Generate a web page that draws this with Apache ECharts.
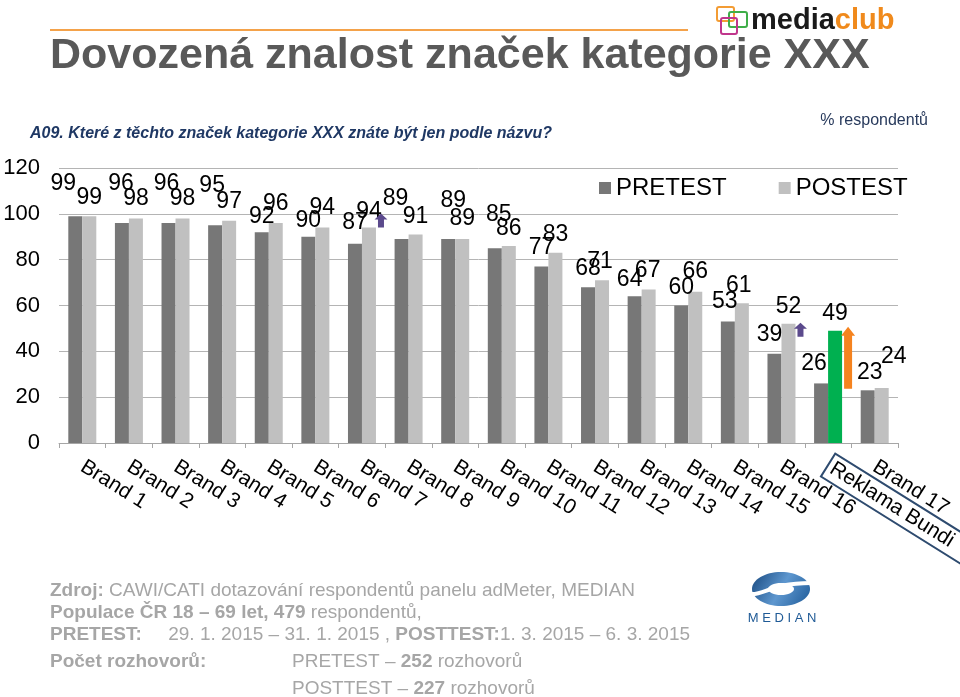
<!DOCTYPE html>
<html>
<head>
<meta charset="utf-8">
<script src="https://cdn.jsdelivr.net/npm/echarts@6/dist/echarts.min.js"></script>
<style>
  html, body { margin: 0; padding: 0; background: #ffffff; }
  #chart { width: 960px; height: 697px; }
</style>
</head>
<body>
<div id="chart"></div>
<script>
// ---------------- data ----------------
const categories = ['Brand 1', 'Brand 2', 'Brand 3', 'Brand 4', 'Brand 5', 'Brand 6', 'Brand 7', 'Brand 8', 'Brand 9',
  'Brand 10', 'Brand 11', 'Brand 12', 'Brand 13', 'Brand 14', 'Brand 15', 'Brand 16', 'Reklama Bundi', 'Brand 17'];
const pretest = [99, 96, 96, 95, 92, 90, 87, 89, 89, 85, 77, 68, 64, 60, 53, 39, 26, 23];
const posttest = [99, 98, 98, 97, 96, 94, 94, 91, 89, 86, 83, 71, 67, 66, 61, 52, 49, 24];
const seriesNames = ['PRETEST', 'POSTEST'];
const yAxisMin = 0, yAxisMax = 120, yAxisStep = 20;
const highlightCategory = 'Reklama Bundi';
const increaseMarks = [
  { category: 'Brand 7', value: 94, kind: 'small' },
  { category: 'Brand 16', value: 52, kind: 'small' },
  { category: 'Reklama Bundi', value: 49, kind: 'tall' }
];

// ---------------- styles / layout ----------------
const FONT = "'Liberation Sans', Arial, 'DejaVu Sans', sans-serif";
const colPre = '#777777', colPost = '#c0c0c0', colHighlight = '#00b050';
const purple = '#5b4a8c', orange = '#f5831f';
const FOOT = 19, footCol = '#a6a6a6';
// label nudges [dx, dy] reproducing the original label placement
const preNudge = [[-12, -14], [-1, -21], [-2, -21], [-3, -21], [0, 3], [0, 2], [0, -2], [-6, -22], [5, -20],
  [4, -15], [0, 0], [0, 0], [-5, 2], [0, 1], [-3, -1], [-5, 0], [-7, -1], [2, 1]];
const postNudge = [[0, 0], [0, -1], [0, -1], [0, -1], [0, -1], [0, -1], [0, 3], [0, 1], [0, -2],
  [0, 1], [0, 0], [-2, 0], [-1, 0], [0, -2], [-3, 1], [0, 1], [0, 1], [12, -13]];
const arrowStyle = {
  small: { path: 'path://M0,6 L6.5,0 L13,6 L9.5,6 L9.5,14 L3.5,14 L3.5,6 Z', size: [13, 14], color: purple, offset: [12, -7] },
  tall: { path: 'path://M0,9 L7,0 L14,9 L11,9 L11,62 L3,62 L3,9 Z', size: [14, 62], color: orange, offset: [13, 27] }
};
const arrowExtraOffset = { 'Brand 7': [12, -7], 'Brand 16': [12, 6] };

const chart = echarts.init(document.getElementById('chart'), null, { renderer: 'canvas' });

const preData = pretest.map((v, i) => ({ value: v, label: { offset: preNudge[i] } }));
const postData = posttest.map((v, i) => {
  const d = { value: v, label: { offset: postNudge[i] } };
  if (categories[i] === highlightCategory) d.itemStyle = { color: colHighlight };
  return d;
});

const markData = increaseMarks.map(m => {
  const st = arrowStyle[m.kind];
  return {
    coord: [m.category, m.value],
    symbol: st.path,
    symbolSize: st.size,
    symbolOffset: arrowExtraOffset[m.category] || st.offset,
    itemStyle: { color: st.color },
    label: { show: false }
  };
});

const catData = categories.map(c => c === highlightCategory ? {
  value: c,
  textStyle: { borderColor: '#2e4b6f', borderWidth: 2, padding: [3, 30, 3, 4] }
} : c);

const labelCommon = {
  show: true, position: 'top', distance: 7,
  fontFamily: FONT, fontSize: 23, color: '#000000'
};

function footText(x, y, text) {
  return {
    type: 'text', x: x, y: y,
    style: {
      text: text, fontFamily: FONT, fontSize: FOOT, fill: footCol,
      rich: { b: { fontFamily: FONT, fontSize: FOOT, fontWeight: 'bold', fill: footCol, color: footCol } },
      align: 'left', verticalAlign: 'middle'
    }
  };
}

const option = {
  animation: false,
  backgroundColor: '#ffffff',
  textStyle: { fontFamily: FONT },
  grid: { left: 59, right: 62, top: 168, bottom: 254, containLabel: false, outerBoundsMode: 'none' },
  legend: {
    data: seriesNames,
    left: 594, top: 171,
    icon: 'rect', itemWidth: 12, itemHeight: 12, itemGap: 52,
    textStyle: { fontFamily: FONT, fontSize: 24, color: '#000000' }
  },
  xAxis: {
    type: 'category',
    data: catData,
    axisLine: { show: true, lineStyle: { color: '#a6a6a6', width: 1 } },
    axisTick: { show: true, length: 5, lineStyle: { color: '#a6a6a6' } },
    axisLabel: { rotate: -32, margin: 22, fontFamily: FONT, fontSize: 21, color: '#000000', interval: 0 }
  },
  yAxis: {
    type: 'value',
    min: yAxisMin, max: yAxisMax, interval: yAxisStep,
    axisLine: { show: false },
    axisTick: { show: false },
    axisLabel: { margin: 19, fontFamily: FONT, fontSize: 22, color: '#000000' },
    splitLine: { show: true, lineStyle: { color: '#b4b4b4', width: 1 } }
  },
  series: [
    {
      name: seriesNames[0], type: 'bar', data: preData,
      barWidth: 14, barGap: '0%',
      itemStyle: { color: colPre },
      label: labelCommon
    },
    {
      name: seriesNames[1], type: 'bar', data: postData,
      barWidth: 14, barGap: '0%',
      itemStyle: { color: colPost },
      label: labelCommon,
      markPoint: { data: markData, label: { show: false }, silent: true }
    }
  ],
  graphic: [
    { type: 'line', shape: { x1: 50, y1: 30, x2: 688, y2: 30 }, style: { stroke: '#f4a24a', lineWidth: 2 } },
    { type: 'text', x: 50, y: 56, style: { text: 'Dovozená znalost značek kategorie XXX', fontFamily: FONT, fontWeight: 'bold', fontSize: 43, fill: '#595959', align: 'left', verticalAlign: 'middle' } },
    { type: 'text', x: 30, y: 134, style: { text: 'A09. Které z těchto značek kategorie XXX znáte být jen podle názvu?', fontFamily: FONT, fontWeight: 'bold', fontStyle: 'italic', fontSize: 16, fill: '#1f3864', align: 'left', verticalAlign: 'middle' } },
    { type: 'text', x: 928, y: 121, style: { text: '% respondentů', fontFamily: FONT, fontSize: 16, fill: '#283a5c', align: 'right', verticalAlign: 'middle' } },
    // mediaclub logo
    { type: 'rect', shape: { x: 717, y: 7, width: 17, height: 14, r: 2 }, style: { fill: 'none', stroke: '#f39c34', lineWidth: 2 } },
    { type: 'rect', shape: { x: 729, y: 12, width: 18, height: 15, r: 2 }, style: { fill: 'none', stroke: '#3fae49', lineWidth: 2 } },
    { type: 'rect', shape: { x: 721, y: 18, width: 16, height: 16, r: 2 }, style: { fill: 'none', stroke: '#c0368c', lineWidth: 2 } },
    { type: 'text', x: 751, y: 21, style: { text: '{m|media}{c|club}', rich: { m: { fontFamily: FONT, fontWeight: 'bold', fontSize: 29, fill: '#1a1a1a', color: '#1a1a1a' }, c: { fontFamily: FONT, fontWeight: 'bold', fontSize: 29, fill: '#f08a1c', color: '#f08a1c' } }, align: 'left', verticalAlign: 'middle' } },
    // footer
    footText(50, 591, '{b|Zdroj:} CAWI/CATI dotazování respondentů panelu adMeter, MEDIAN'),
    footText(50, 613, '{b|Populace ČR 18 – 69 let, 479} respondentů,'),
    footText(50, 635, '{b|PRETEST:}     29. 1. 2015 – 31. 1. 2015 , {b|POSTTEST:}1. 3. 2015 – 6. 3. 2015'),
    footText(50, 662, '{b|Počet rozhovorů:}'),
    footText(292, 662, 'PRETEST – {b|252} rozhovorů'),
    footText(292, 689, 'POSTTEST – {b|227} rozhovorů'),
    // MEDIAN logo
    { type: 'ellipse', shape: { cx: 781, cy: 589, rx: 29, ry: 17 }, style: { fill: new echarts.graphic.LinearGradient(0, 0, 1, 1, [{ offset: 0, color: '#17487f' }, { offset: 0.5, color: '#5e97cf' }, { offset: 1, color: '#1d5a98' }]) } },
    { type: 'ellipse', shape: { cx: 781, cy: 589, rx: 13, ry: 6 }, style: { fill: '#ffffff' } },
    { type: 'bezierCurve', shape: { x1: 752, y1: 594, cpx1: 766, cpy1: 594, cpx2: 772, cpy2: 583, x2: 811, y2: 583 }, style: { stroke: '#ffffff', lineWidth: 4, fill: 'none' } },
    { type: 'text', x: 782, y: 618, style: { text: 'M E D I A N', fontFamily: FONT, fontSize: 13, fill: '#1f5a96', align: 'center', verticalAlign: 'middle' } }
  ]
};

chart.setOption(option);
</script>
</body>
</html>
